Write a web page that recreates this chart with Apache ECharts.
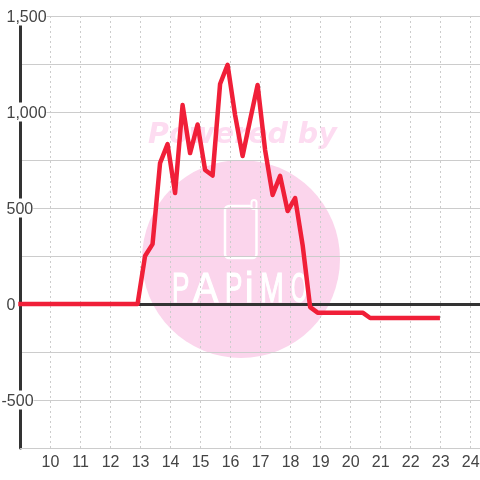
<!DOCTYPE html>
<html>
<head>
<meta charset="utf-8">
<style>
    html, body { margin: 0; padding: 0; background: #fff; }
    #chart { width: 480px; height: 480px; }
</style>
<script src="https://cdn.jsdelivr.net/npm/echarts@6/dist/echarts.min.js"></script>
</head>
<body>
<div id="chart"></div>
<script>
    // hours of the day
    var hours = [9, 12.9, 13.15, 13.4, 13.65, 13.9, 14.15, 14.4, 14.65, 14.9,
        15.15, 15.4, 15.65, 15.9, 16.15, 16.4, 16.65, 16.9, 17.15, 17.4,
        17.65, 17.9, 18.15, 18.4, 18.65, 18.9, 20.4, 20.65, 22.9];
    var values = [0, 0, 250, 312, 734, 833, 578, 1036, 786, 935,
        698, 669, 1146, 1246, 984, 771, 958, 1141, 802, 568,
        667, 484, 552, 307, -16, -45, -45, -73, -73];
    var yLabels = [-500, 0, 500, 1000, 1500];
    var logoLetters = ['P', 'A', 'P', 'i', 'M', 'O'];

    var line = [];
    for (var i = 0; i < hours.length; i++) {
        line.push([hours[i], values[i]]);
    }

    // the watermark behind the plot
    var watermark = [
        { type: 'circle', z: -10, silent: true, shape: { cx: 241, cy: 259, r: 99 }, style: { fill: '#fbd5ec' } },
        {
            type: 'text', z: -10, silent: true, x: 148, y: 121,
            style: { text: 'Powered by', fill: '#fddcf1', font: 'italic bold 28.5px "DejaVu Sans"' }
        },
        {
            type: 'rect', z: -9, silent: true,
            shape: { x: 225, y: 206, width: 31.5, height: 52, r: 4 },
            style: { fill: 'none', stroke: '#fff', lineWidth: 2.5 }
        },
        {
            type: 'rect', z: -8, silent: true,
            shape: { x: 251.5, y: 200, width: 5, height: 9, r: 2.5 },
            style: { fill: '#fbd5ec', stroke: '#fff', lineWidth: 2 }
        }
    ];
    var logoX = [172, 193, 225, 245, 260, 291];
    var logoScale = [0.62, 0.9, 0.62, 0.9, 0.68, 0.5];
    logoLetters.forEach(function (letter, idx) {
        watermark.push({
            type: 'text', z: -9, silent: true, x: logoX[idx], y: 290, scaleX: logoScale[idx],
            style: { text: letter, fill: '#fff', stroke: '#fff', lineWidth: 1.2, font: '42px "Liberation Sans"', verticalAlign: 'middle' }
        });
    });

    var myChart = echarts.init(document.getElementById('chart'), null, { renderer: 'canvas' });
    var option = {
        animation: false,
        backgroundColor: '#fff',
        graphic: watermark,
        grid: { left: 20.5, right: 0, top: 16, bottom: 32, outerBoundsMode: 'none' },
        xAxis: [
            {
                type: 'value', min: 9, max: 24.31, interval: 1,
                axisLine: { onZero: false, lineStyle: { color: '#ccc', width: 1 } },
                axisTick: { show: false },
                axisLabel: {
                    color: '#444', fontSize: 16, fontFamily: 'Liberation Sans', margin: 7,
                    showMinLabel: false, showMaxLabel: false
                },
                splitLine: { show: true, lineStyle: { color: '#ccc', type: [2, 3], width: 1 } }
            },
            {
                type: 'value', min: 9, max: 24.31, interval: 1,
                axisLine: { onZero: true, lineStyle: { color: '#333', width: 3 } },
                axisTick: { show: false },
                axisLabel: { show: false },
                splitLine: { show: false }
            }
        ],
        yAxis: {
            type: 'value', min: -750, max: 1500, interval: 250,
            axisLine: { show: true, onZero: false, lineStyle: { color: '#333', width: 3 } },
            axisTick: { show: false },
            axisLabel: {
                inside: true, margin: -19, align: 'left',
                color: '#444', fontSize: 16, fontFamily: 'Liberation Sans',
                backgroundColor: '#fff', lineHeight: 16, padding: [3, 0, 0, 0],
                rich: {
                    pos: { color: '#444', fontSize: 16, fontFamily: 'Liberation Sans', padding: [0, 0, 0, 5] }
                },
                formatter: function (v) {
                    if (yLabels.indexOf(v) < 0) return '';
                    if (v < 0) return String(v);
                    return '{pos|' + echarts.format.addCommas(v) + '}';
                }
            },
            splitLine: { show: true, lineStyle: { color: '#ccc', width: 1 } }
        },
        series: [{
            type: 'line', data: line, showSymbol: false, z: 10, clip: false,
            lineStyle: { color: '#f01f38', width: 4.5, join: 'round', cap: 'square' }
        }]
    };
    myChart.setOption(option);
</script>
</body>
</html>
